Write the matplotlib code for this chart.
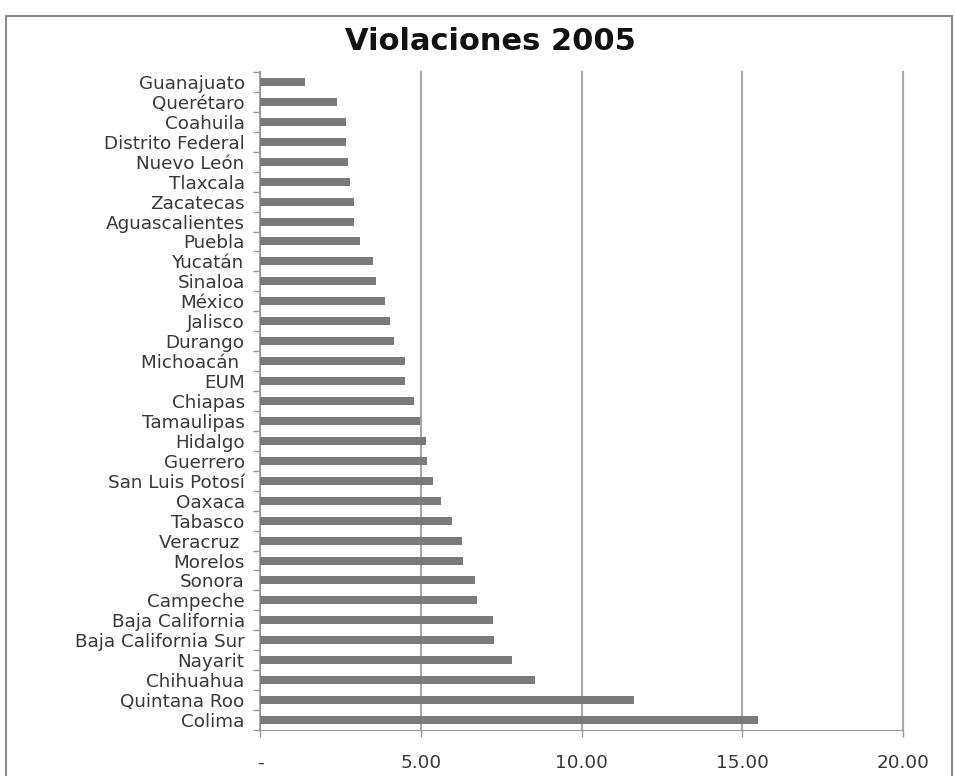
import numpy as np
import matplotlib.pyplot as plt
from matplotlib.patches import Rectangle

# categories top to bottom as they appear in the chart
estados = ['Guanajuato', 'Querétaro', 'Coahuila', 'Distrito Federal', 'Nuevo León',
           'Tlaxcala', 'Zacatecas', 'Aguascalientes', 'Puebla', 'Yucatán',
           'Sinaloa', 'México', 'Jalisco', 'Durango', 'Michoacán ', 'EUM',
           'Chiapas', 'Tamaulipas', 'Hidalgo', 'Guerrero', 'San Luis Potosí',
           'Oaxaca', 'Tabasco', 'Veracruz ', 'Morelos', 'Sonora', 'Campeche',
           'Baja California', 'Baja California Sur', 'Nayarit', 'Chihuahua',
           'Quintana Roo', 'Colima']
violaciones = [1.40, 2.41, 2.66, 2.66, 2.73, 2.81, 2.93, 2.93, 3.12, 3.53,
               3.60, 3.88, 4.05, 4.16, 4.52, 4.52, 4.79, 4.98, 5.16, 5.20,
               5.37, 5.64, 5.96, 6.28, 6.32, 6.68, 6.76, 7.24, 7.28, 7.84,
               8.55, 11.62, 15.48]
xticks = [0, 5, 10, 15, 20]
xtick_labels = ['-', '5.00', '10.00', '15.00', '20.00']

plt.rcParams['font.family'] = ['DejaVu Sans']

fig = plt.figure(figsize=(9.55, 7.76), dpi=100)
ax = fig.add_axes([260 / 955, 46 / 776, 643 / 955, 658 / 776])

n = len(estados)
y = np.arange(n)
ax.barh(y, violaciones, height=0.4, color='#7a7a7a', zorder=3)

ax.set_ylim(n - 0.5, -0.5)
ax.set_xlim(0, 20)
ax.set_yticks(y)
ax.set_yticklabels(estados, fontsize=13.2, color='#383838')
ax.set_yticks(np.arange(-0.5, n, 1), minor=True)
ax.tick_params(axis='y', which='major', length=0, pad=11)
ax.tick_params(axis='y', which='minor', length=5, color='#999999', width=1)

ax.set_xticks(xticks)
ax.set_xticklabels(xtick_labels, fontsize=13.2, color='#383838')
ax.tick_params(axis='x', length=5, color='#999999', width=1, pad=12)

ax.grid(axis='x', color='#a8a8a8', linewidth=1.5, zorder=0)
for gl in ax.xaxis.get_gridlines():
    gl.set_clip_on(False)
for s in ['top', 'right']:
    ax.spines[s].set_visible(False)
ax.spines['left'].set_color('#999999')
ax.spines['bottom'].set_color('#999999')

fig.text(490 / 955, 1 - 41 / 776, 'Violaciones 2005', ha='center', va='center',
         fontsize=22, fontweight='bold', color='#111111')

fig.patches.append(Rectangle((6 / 955, -0.02), 946 / 955, 1 - 16 / 776 + 0.02,
                             transform=fig.transFigure, fill=False,
                             edgecolor='#8a8a8a', linewidth=1.5))

fig.savefig('out.png', dpi=100)
